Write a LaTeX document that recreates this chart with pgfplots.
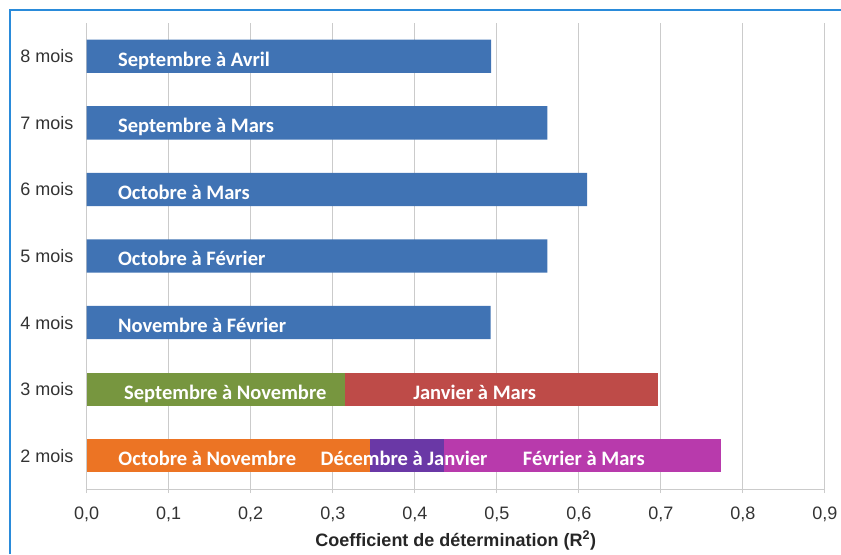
\documentclass[border=0pt]{standalone}
\usepackage{fontspec}
\setmainfont{Liberation Sans}
\newfontfamily\calibri{Carlito}
\usepackage{pgfplots}
\usepackage{pgfplotstable}
\pgfplotsset{compat=1.18}
\definecolor{cblue}{HTML}{4073B4}
\definecolor{cgreen}{HTML}{77963F}
\definecolor{cred}{HTML}{BE4B48}
\definecolor{corange}{HTML}{EC7424}
\definecolor{cpurple}{HTML}{6A38A6}
\definecolor{cmagenta}{HTML}{B83AAC}
\definecolor{frameblue}{HTML}{2A8BDA}
\definecolor{gridgray}{HTML}{CBCBCB}
\tikzset{bl/.style={text=white, font=\calibri\bfseries\fontsize{15.4}{18}\selectfont, inner sep=0pt}}

\pgfplotstableread{
y orange green blue purple red magenta
0 0.345 0 0 0.091 0 0.337
1 0 0.315 0 0 0.382 0
2 0 0 0.4925 0 0 0
3 0 0 0.5615 0 0 0
4 0 0 0.610 0 0 0
5 0 0 0.5615 0 0 0
6 0 0 0.493 0 0 0
}\datatable

\begin{document}
\begin{tikzpicture}
\useasboundingbox (0,0) rectangle (630.75pt,415.5pt);
\draw[frameblue, line width=1.8pt] (7.5pt,0) -- (7.5pt,408pt) -- (631pt,408pt);
\begin{axis}[
  at={(65pt,48.75pt)}, anchor=south west,
  scale only axis, width=553.75pt, height=349.5pt,
  xbar stacked, bar width=0.5,
  xmin=0, xmax=0.9, ymin=-0.5, ymax=6.5,
  xtick={0,0.1,0.2,0.3,0.4,0.5,0.6,0.7,0.8,0.9},
  xticklabels={{0,0},{0,1},{0,2},{0,3},{0,4},{0,5},{0,6},{0,7},{0,8},{0,9}},
  ytick={0,1,2,3,4,5,6},
  yticklabels={2 mois,3 mois,4 mois,5 mois,6 mois,7 mois,8 mois},
  axis x line*=bottom, axis y line*=left,
  axis line style={draw=gridgray, line width=0.75pt, -},
  xmajorgrids, grid style={draw=gridgray, line width=0.75pt},
  x tick style={draw=gridgray, line width=0.75pt},
  xtick align=outside, major tick length=3pt,
  ytick style={draw=none},
  ticklabel style={font=\fontsize{13.5}{16}\selectfont, text=black!80},
  xticklabel style={yshift=-7pt},
  yticklabel style={xshift=-6.5pt},
  xlabel={\bfseries Coefficient de détermination (R\textsuperscript{2})},
  xlabel style={at={(axis description cs:0.5,0)}, anchor=base, yshift=-42.75pt,
    font=\fontsize{13.5}{16}\selectfont, text=black!85},
  clip=false,
]
\addplot[fill=corange, draw=none] table[x=orange, y=y] {\datatable};
\addplot[fill=cgreen, draw=none] table[x=green, y=y] {\datatable};
\addplot[fill=cblue, draw=none] table[x=blue, y=y] {\datatable};
\addplot[fill=cpurple, draw=none] table[x=purple, y=y] {\datatable};
\addplot[fill=cred, draw=none] table[x=red, y=y] {\datatable};
\addplot[fill=cmagenta, draw=none] table[x=magenta, y=y] {\datatable};

\coordinate (l8) at (axis cs:0.038,5.85);
\coordinate (l7) at (axis cs:0.038,4.85);
\coordinate (l6) at (axis cs:0.038,3.85);
\coordinate (l5) at (axis cs:0.038,2.85);
\coordinate (l4) at (axis cs:0.038,1.85);
\coordinate (l3a) at (axis cs:0.169,0.85);
\coordinate (l3b) at (axis cs:0.473,0.85);
\coordinate (l2a) at (axis cs:0.147,-0.15);
\coordinate (l2b) at (axis cs:0.387,-0.15);
\coordinate (l2c) at (axis cs:0.606,-0.15);
\end{axis}
\node[bl, anchor=base west] at (l8) {Septembre à Avril};
\node[bl, anchor=base west] at (l7) {Septembre à Mars};
\node[bl, anchor=base west] at (l6) {Octobre à Mars};
\node[bl, anchor=base west] at (l5) {Octobre à Février};
\node[bl, anchor=base west] at (l4) {Novembre à Février};
\node[bl, anchor=base] at (l3a) {Septembre à Novembre};
\node[bl, anchor=base] at (l3b) {Janvier à Mars};
\node[bl, anchor=base] at (l2a) {Octobre à Novembre};
\node[bl, anchor=base] at (l2b) {Décembre à Janvier};
\node[bl, anchor=base] at (l2c) {Février à Mars};
\end{tikzpicture}
\end{document}
